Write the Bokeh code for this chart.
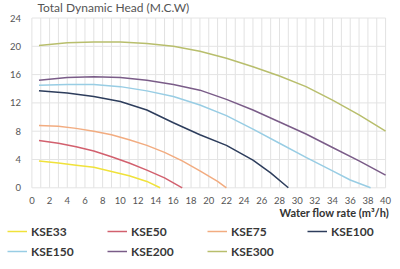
from bokeh.plotting import figure
from bokeh.models import Range1d, FixedTicker, Legend, LegendItem, Label
from bokeh.embed import file_html
from bokeh.resources import INLINE

# ---- data ----
names = ["KSE33", "KSE50", "KSE75", "KSE100", "KSE150", "KSE200", "KSE300"]
colors = ["#f0e23a", "#d2606e", "#f2ac80", "#2d3d5c", "#98cde4", "#7a5c88", "#b8be6c"]

kse33_x = [0.8, 3, 5, 7, 9, 11, 13, 14.5]
kse33_y = [3.8, 3.5, 3.2, 2.9, 2.3, 1.7, 0.9, 0.0]
kse50_x = [0.8, 3, 5, 7, 9, 11, 13, 15, 17]
kse50_y = [6.7, 6.3, 5.8, 5.2, 4.4, 3.5, 2.5, 1.4, 0.0]
kse75_x = [0.8, 3, 5, 7, 9, 11, 13, 15, 17, 19, 21, 22]
kse75_y = [8.8, 8.7, 8.4, 8.0, 7.5, 6.8, 6.0, 5.0, 3.8, 2.4, 0.9, 0.0]
kse100_x = [0.8, 4, 7, 10, 13, 16, 19, 22, 25, 27, 29]
kse100_y = [13.7, 13.4, 12.9, 12.2, 11.0, 9.2, 7.5, 6.0, 3.9, 2.1, 0.0]
kse150_x = [0.8, 4, 7, 10, 13, 16, 19, 22, 25, 28, 31, 34, 36, 38.3]
kse150_y = [14.5, 14.6, 14.6, 14.3, 13.7, 12.9, 11.7, 10.2, 8.3, 6.3, 4.3, 2.4, 1.1, 0.0]
kse200_x = [0.8, 4, 7, 10, 13, 16, 19, 22, 25, 28, 31, 34, 37, 40]
kse200_y = [15.2, 15.6, 15.7, 15.6, 15.2, 14.6, 13.8, 12.5, 11.0, 9.3, 7.6, 5.7, 3.8, 1.8]
kse300_x = [0.8, 4, 7, 10, 13, 16, 19, 22, 25, 28, 31, 34, 37, 40]
kse300_y = [20.1, 20.5, 20.6, 20.6, 20.4, 20.0, 19.3, 18.3, 17.1, 15.8, 14.3, 12.4, 10.3, 8.0]

series_x = [kse33_x, kse50_x, kse75_x, kse100_x, kse150_x, kse200_x, kse300_x]
series_y = [kse33_y, kse50_y, kse75_y, kse100_y, kse150_y, kse200_y, kse300_y]

x_ticks = list(range(0, 41, 2))
x_grid = list(range(0, 41, 1))
y_ticks = [0, 4, 8, 12, 16, 20, 24]

title_text = "Total Dynamic Head (M.C.W)"
xlabel_text = "Water flow rate (m\u00b3/h)"

FONT = "Lato"
W, H = 392, 261
# plot area inside the canvas (pixels): left 31.4, right 385.1, top 17.5, bottom 187.3
L, R, T, B = 31.4, 385.1, 17.5, 187.3
PX_X = (R - L) / 40.0
PX_Y = (B - T) / 24.0

p = figure(width=W, height=H, output_backend="svg", toolbar_location=None,
           x_range=Range1d(-L / PX_X, 40 + (W - R) / PX_X),
           y_range=Range1d(-(H - B) / PX_Y, 24 + T / PX_Y),
           min_border=0, min_border_left=0, min_border_right=0,
           min_border_top=0, min_border_bottom=0)
p.outline_line_color = None
p.background_fill_color = "white"
p.xgrid.visible = False
p.ygrid.visible = False

# grid lines limited to the data area
gx0 = [min(y_ticks)] * len(x_grid)
gx1 = [max(y_ticks)] * len(x_grid)
p.segment(x0=x_grid, y0=gx0, x1=x_grid, y1=gx1, line_color="#e2e2e2", line_width=1)
p.segment(x0=[min(x_ticks)] * len(y_ticks), y0=y_ticks,
          x1=[max(x_ticks)] * len(y_ticks), y1=y_ticks, line_color="#e4e4e4", line_width=1)

# axes fixed at the data origin
p.xaxis.ticker = FixedTicker(ticks=x_ticks)
p.yaxis.ticker = FixedTicker(ticks=y_ticks)
p.xaxis.fixed_location = 0
p.yaxis.fixed_location = 0
for ax in (p.xaxis[0], p.yaxis[0]):
    ax.axis_line_color = None
    ax.major_tick_line_color = None
    ax.minor_tick_line_color = None
    ax.major_label_text_font = FONT
    ax.major_label_text_font_size = "9.5px"
    ax.major_label_text_color = "#555555"
p.yaxis.major_label_standoff = 5
p.xaxis.major_label_standoff = 3

renderers = []
for xs, ys, c in zip(series_x, series_y, colors):
    r = p.line(xs, ys, line_color=c, line_width=1.5)
    renderers.append(r)

items = [LegendItem(label=n, renderers=[r]) for n, r in zip(names, renderers)]
lg = Legend(items=items, orientation="horizontal", ncols=4,
            location=(7, 2),
            glyph_width=20, glyph_height=16, label_height=16, label_width=72,
            spacing=4, padding=0, margin=0, label_standoff=4,
            border_line_color=None, background_fill_alpha=0,
            label_text_font=FONT, label_text_font_size="12px",
            label_text_font_style="bold", label_text_color="#383838")
p.add_layout(lg, "center")

p.add_layout(Label(x=37, y=H - 7, x_units="screen", y_units="screen", text=title_text,
                   text_baseline="middle", text_align="left", text_font=FONT,
                   text_font_size="12px", text_color="#555555"))
p.add_layout(Label(x=279, y=H - 211.5, x_units="screen", y_units="screen", text=xlabel_text,
                   text_baseline="middle", text_align="left", text_font=FONT,
                   text_font_size="11px", text_font_style="bold", text_color="#333333"))

open("out.html", "w").write(file_html(p, INLINE))
